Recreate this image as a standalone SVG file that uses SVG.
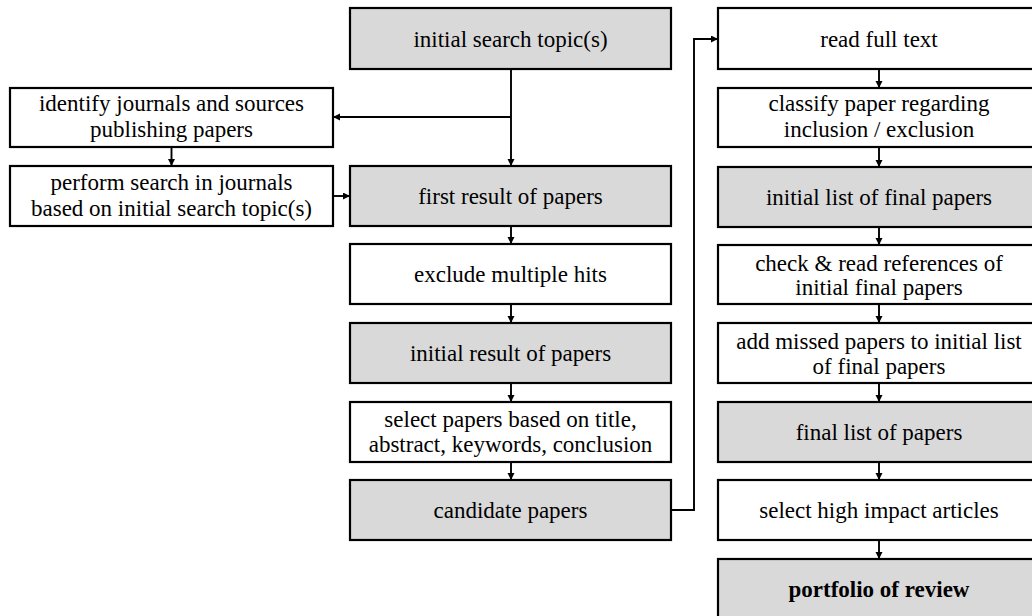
<svg xmlns="http://www.w3.org/2000/svg" width="1032" height="616" viewBox="0 0 1032 616">
<defs>
<marker id="ah" markerUnits="userSpaceOnUse" markerWidth="8" markerHeight="8" refX="7" refY="3.5" orient="auto">
<path d="M0,0 L7,3.5 L0,7 z" fill="#000"/>
</marker>
<style>
.b{fill:#fff;stroke:#000;stroke-width:2.2}
.g{fill:#d9d9d9;stroke:#000;stroke-width:2.2}
text{font-family:"Liberation Serif","Times New Roman",serif;font-size:23px;fill:#000;text-anchor:middle}
.c{fill:none;stroke:#000;stroke-width:1.9}
</style>
</defs>
<rect width="1032" height="616" fill="#fff"/>
<g id="connectors">
<line class="c" x1="511" y1="69" x2="511" y2="166" marker-end="url(#ah)"/>
<line class="c" x1="511" y1="117" x2="333" y2="117" marker-end="url(#ah)"/>
<line class="c" x1="171.5" y1="147" x2="171.5" y2="166" marker-end="url(#ah)"/>
<line class="c" x1="333" y1="196" x2="350" y2="196" marker-end="url(#ah)"/>
<line class="c" x1="511" y1="226" x2="511" y2="244" marker-end="url(#ah)"/>
<line class="c" x1="511" y1="304" x2="511" y2="323" marker-end="url(#ah)"/>
<line class="c" x1="511" y1="383" x2="511" y2="402" marker-end="url(#ah)"/>
<line class="c" x1="511" y1="462" x2="511" y2="480" marker-end="url(#ah)"/>
<path class="c" d="M671,510 H694 V39 H718" marker-end="url(#ah)"/>
<line class="c" x1="879" y1="69" x2="879" y2="88" marker-end="url(#ah)"/>
<line class="c" x1="879" y1="147" x2="879" y2="167" marker-end="url(#ah)"/>
<line class="c" x1="879" y1="227" x2="879" y2="245" marker-end="url(#ah)"/>
<line class="c" x1="879" y1="304" x2="879" y2="323" marker-end="url(#ah)"/>
<line class="c" x1="879" y1="383" x2="879" y2="402" marker-end="url(#ah)"/>
<line class="c" x1="879" y1="462" x2="879" y2="480" marker-end="url(#ah)"/>
<line class="c" x1="879" y1="540" x2="879" y2="559" marker-end="url(#ah)"/>
</g>
<g id="n-initial-search"><rect class="g" x="350" y="8" width="321" height="61"/><text x="510.5" y="47">initial search topic(s)</text></g>
<g id="n-identify"><rect class="b" x="10" y="88" width="323" height="59"/><text x="171.5" y="111">identify journals and sources</text><text x="171.5" y="137">publishing papers</text></g>
<g id="n-perform"><rect class="b" x="10" y="166" width="323" height="60"/><text x="171.5" y="190">perform search in journals</text><text x="171.5" y="216">based on initial search topic(s)</text></g>
<g id="n-first-result"><rect class="g" x="350" y="166" width="321" height="60"/><text x="510.5" y="204">first result of papers</text></g>
<g id="n-exclude"><rect class="b" x="350" y="244" width="321" height="60"/><text x="510.5" y="282">exclude multiple hits</text></g>
<g id="n-initial-result"><rect class="g" x="350" y="323" width="321" height="60"/><text x="510.5" y="361">initial result of papers</text></g>
<g id="n-select-papers"><rect class="b" x="350" y="402" width="321" height="60"/><text x="510.5" y="427">select papers based on title,</text><text x="510.5" y="452">abstract, keywords, conclusion</text></g>
<g id="n-candidate"><rect class="g" x="350" y="480" width="321" height="60"/><text x="510.5" y="518">candidate papers</text></g>
<g id="n-read-full"><rect class="b" x="718" y="8" width="322" height="61"/><text x="879" y="47">read full text</text></g>
<g id="n-classify"><rect class="b" x="718" y="88" width="322" height="59"/><text x="879" y="111">classify paper regarding</text><text x="879" y="137">inclusion / exclusion</text></g>
<g id="n-initial-list"><rect class="g" x="718" y="167" width="322" height="60"/><text x="879" y="205">initial list of final papers</text></g>
<g id="n-check"><rect class="b" x="718" y="245" width="322" height="59"/><text x="879" y="271">check &amp; read references of</text><text x="879" y="295">initial final papers</text></g>
<g id="n-add-missed"><rect class="b" x="718" y="323" width="322" height="60"/><text x="879" y="349">add missed papers to initial list</text><text x="879" y="374">of final papers</text></g>
<g id="n-final-list"><rect class="g" x="718" y="402" width="322" height="60"/><text x="879" y="440">final list of papers</text></g>
<g id="n-high-impact"><rect class="b" x="718" y="480" width="322" height="60"/><text x="879" y="518">select high impact articles</text></g>
<g id="n-portfolio"><rect class="g" x="718" y="559" width="322" height="62"/><text x="879" y="597" font-weight="bold">portfolio of review</text></g>
</svg>
